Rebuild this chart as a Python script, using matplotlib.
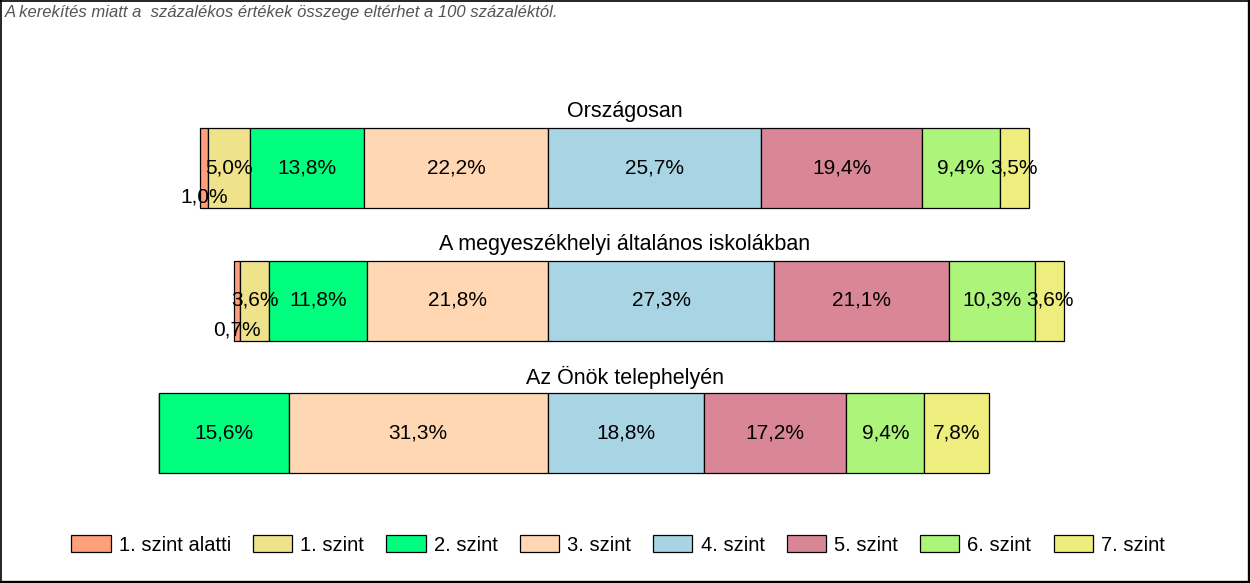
import matplotlib
matplotlib.use("Agg")
import matplotlib.pyplot as plt
from matplotlib.patches import Rectangle
from matplotlib.lines import Line2D
import numpy as np

plt.rcParams['font.family'] = ['Liberation Sans', 'DejaVu Sans']

categories = ["1. szint alatti", "1. szint", "2. szint", "3. szint",
              "4. szint", "5. szint", "6. szint", "7. szint"]
groups = ["Országosan", "A megyeszékhelyi általános iskolákban", "Az Önök telephelyén"]
orszagos = [1.0, 5.0, 13.8, 22.2, 25.7, 19.4, 9.4, 3.5]
megye = [0.7, 3.6, 11.8, 21.8, 27.3, 21.1, 10.3, 3.6]
telephely = [0.0, 0.0, 15.6, 31.3, 18.8, 17.2, 9.4, 7.8]
colors = ["#FFA07A", "#EEE28A", "#00FF7F", "#FFD7B2",
          "#A9D4E4", "#D98797", "#ADF47B", "#EEEE7E"]
note = "A kerekítés miatt a  százalékos értékek összege eltérhet a 100 százaléktól."

data = [orszagos, megye, telephely]

W, H = 1250, 583
fig = plt.figure(figsize=(W / 100, H / 100), dpi=100)
ax = fig.add_axes([0, 0, 1, 1])
ax.axis('off')

# pixel mapping: anchor (boundary 3|4) at px 548, 8.29 px per percent
px_per = 8.29
x0 = 548
ax.set_xlim(-x0 / px_per, (W - x0) / px_per)
row_sp = 132.5
yc0 = 168
ax.set_ylim((H - yc0) / row_sp, -yc0 / row_sp)
bar_h = 80 / row_sp

blend = matplotlib.transforms.blended_transform_factory(fig.transFigure, ax.transData)

for i, (g, vals) in enumerate(zip(groups, data)):
    vals = np.array(vals)
    left = -vals[:4].sum()
    starts = left + np.concatenate([[0], np.cumsum(vals)[:-1]])
    ax.barh(i, vals, left=starts, height=bar_h, color=colors,
            edgecolor='black', linewidth=0.9)
    for j, (s, v) in enumerate(zip(starts, vals)):
        if v <= 0:
            continue
        yy = i
        if j == 0 and v < 2:
            yy = i + 29 / row_sp
        ax.text(s + v / 2, yy, f"{v:.1f}%".replace('.', ','),
                ha='center', va='center', fontsize=15, color='black')
    ax.text(0.5, i - (bar_h / 2) - 16 / row_sp, g, transform=blend,
            ha='center', va='center', fontsize=15.5, color='black')

fig.text(5 / W, 1 - 13 / H, note, ha='left', va='center', fontsize=12,
         style='italic', color='#555555')

handles = [Rectangle((0, 0), 1, 1, facecolor=c, edgecolor='black', linewidth=0.9)
           for c in colors]
fig.legend(handles, categories, loc='center', bbox_to_anchor=(618 / W, 1 - 545 / H),
           ncol=8, frameon=False, fontsize=14.5, handlelength=1.95,
           handleheight=0.85, handletextpad=0.4, columnspacing=1.1)

# figure border: thin left/top, thicker right/bottom
fig.add_artist(Line2D([0.5 / W, 0.5 / W], [0, 1], transform=fig.transFigure, color='black', lw=1.2))
fig.add_artist(Line2D([0, 1], [1 - 0.5 / H, 1 - 0.5 / H], transform=fig.transFigure, color='black', lw=1.2))
fig.add_artist(Line2D([1 - 1.5 / W, 1 - 1.5 / W], [0, 1], transform=fig.transFigure, color='black', lw=2.4))
fig.add_artist(Line2D([0, 1], [1.5 / H, 1.5 / H], transform=fig.transFigure, color='black', lw=2.4))

fig.savefig("out.png", dpi=100)
